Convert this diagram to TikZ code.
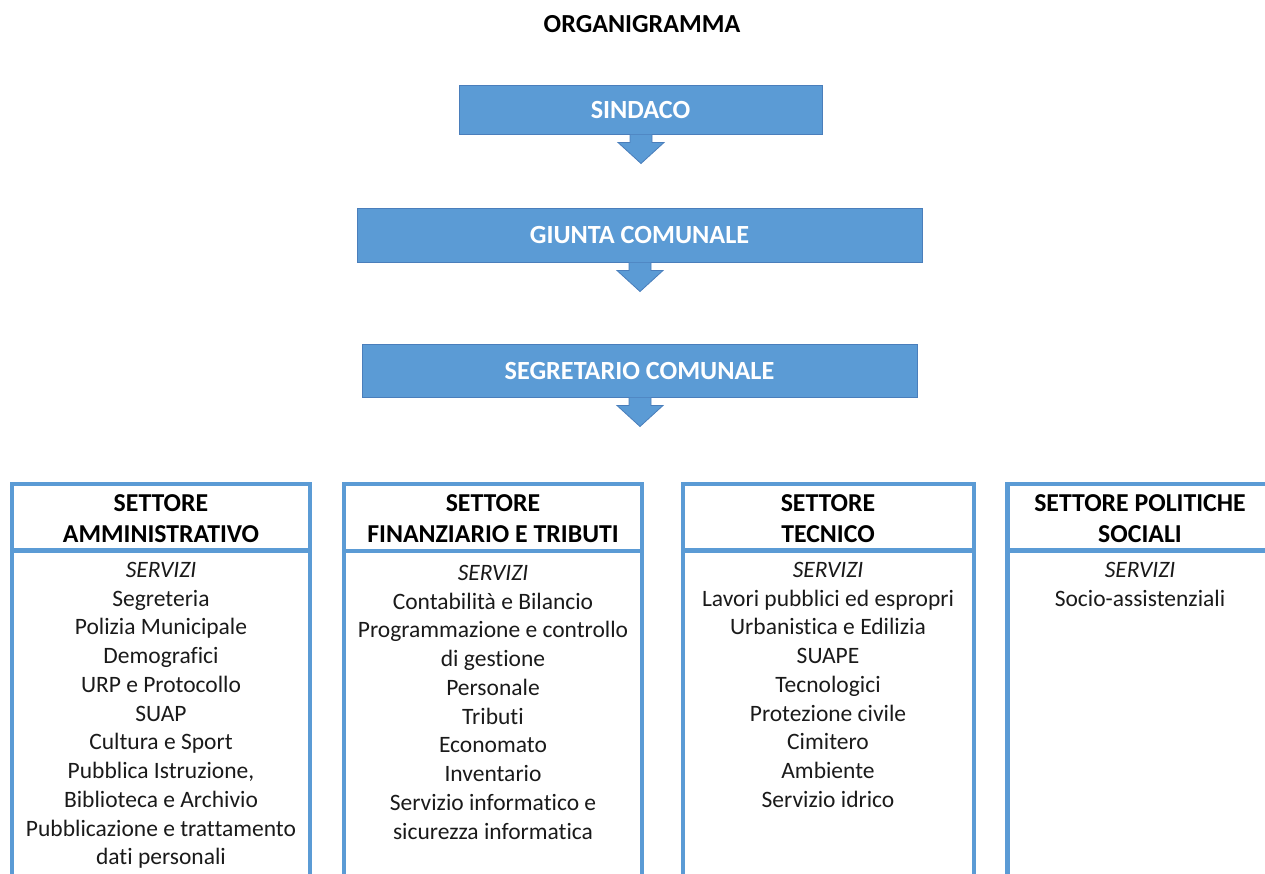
\documentclass[tikz,border=0pt]{standalone}
\usepackage{fontspec}
\setmainfont{Carlito}[Ligatures=CommonOff]
\usetikzlibrary{calc}
\definecolor{boxblue}{HTML}{5B9BD5}
\definecolor{edgeblue}{HTML}{4A7EBB}
\definecolor{colblue}{HTML}{5B9BD5}
\definecolor{txt}{HTML}{1A1A1A}
\begin{document}
\begin{tikzpicture}[x=1pt,y=-1pt,
  topbox/.style={draw=edgeblue, line width=1pt, fill=boxblue, text=white,
    font=\fontsize{26.2}{30}\selectfont\bfseries, inner sep=0pt},
  blockarrow/.style={fill=boxblue, draw=edgeblue, line width=0.8pt, line join=miter},
  colline/.style={draw=colblue, line width=4.2pt},
  header/.style={font=\fontsize{25.8}{31}\selectfont\bfseries, align=center, inner sep=0pt, anchor=north, text=black},
  items/.style={font=\fontsize{23.5}{28.75}\selectfont, align=center, inner sep=0pt, anchor=north, text=txt}
]
\useasboundingbox (0,0) rectangle (1265,873);
\clip (0,0) rectangle (1265,873);

\node[font=\fontsize{26}{30}\selectfont\bfseries] (title) at (642,24) {ORGANIGRAMMA};

\node[topbox, minimum width=363pt, minimum height=49pt] (sindaco) at (640.5,109.5) {\raisebox{-1pt}{SINDACO}};
\node[topbox, minimum width=565pt, minimum height=54pt] (giunta) at (639.5,235) {\raisebox{-1pt}{GIUNTA COMUNALE}};
\node[topbox, minimum width=555pt, minimum height=53pt] (segretario) at (639.5,370.5) {\raisebox{-1pt}{SEGRETARIO COMUNALE}};

% block arrows
\foreach \b in {sindaco,giunta,segretario}{
  \coordinate (\b-a) at ($(\b.south)+(0.5,0)$);
  \draw[blockarrow] ($(\b-a)+(-11,0)$) -- ($(\b-a)+(-11,8)$) -- ($(\b-a)+(-23,8)$)
    -- ($(\b-a)+(0,29)$) -- ($(\b-a)+(23,8)$) -- ($(\b-a)+(11,8)$) -- ($(\b-a)+(11,0)$);
}

% columns
\draw[colline] (12,880) -- (12,484) -- (310,484) -- (310,880);
\draw[colline] (12,550.5) -- (310,550.5);
\draw[colline] (344,880) -- (344,484) -- (642,484) -- (642,880);
\draw[colline] (344,551) -- (642,551);
\draw[colline] (683,880) -- (683,484) -- (974,484) -- (974,880);
\draw[colline] (683,550.5) -- (974,550.5);
\draw[colline] (1007.5,880) -- (1007.5,484) -- (1275,484);
\draw[colline] (1007.5,550.5) -- (1275,550.5);

% headers
\node[header] (h1) at (161,494.5) {SETTORE\\AMMINISTRATIVO};
\node[header] (h2) at (493,494.5) {SETTORE\\FINANZIARIO E TRIBUTI};
\node[header] (h3) at (828,494.5) {SETTORE\\TECNICO};
\node[header] (h4) at (1140,494.5) {SETTORE POLITICHE\\SOCIALI};

% services
\node[items] (s1) at (161,562) {\textit{SERVIZI}\\Segreteria\\Polizia Municipale\\Demografici\\URP e Protocollo\\SUAP\\Cultura e Sport\\Pubblica Istruzione,\\Biblioteca e Archivio\\Pubblicazione e trattamento\\dati personali};
\node[items] (s2) at (493,565) {\textit{SERVIZI}\\Contabilità e Bilancio\\Programmazione e controllo\\di gestione\\Personale\\Tributi\\Economato\\Inventario\\Servizio informatico e\\sicurezza informatica};
\node[items] (s3) at (828,562) {\textit{SERVIZI}\\Lavori pubblici ed espropri\\Urbanistica e Edilizia\\SUAPE\\Tecnologici\\Protezione civile\\Cimitero\\Ambiente\\Servizio idrico};
\node[items] (s4) at (1140,562) {\textit{SERVIZI}\\Socio-assistenziali};
\end{tikzpicture}
\end{document}
